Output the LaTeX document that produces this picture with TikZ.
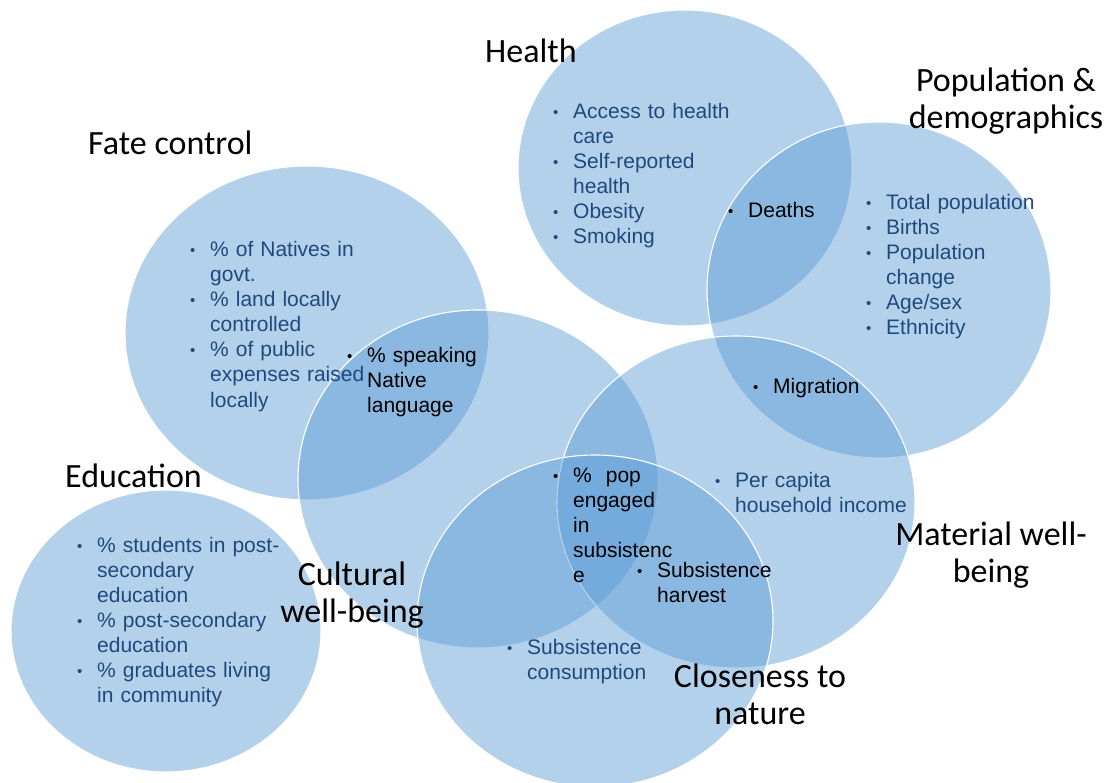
\documentclass[tikz,border=0pt]{standalone}
\usepackage{fontspec}
\setmainfont{Liberation Sans}
\newfontfamily\titlefont{Carlito}
\definecolor{circblue}{RGB}{91,155,213}
\definecolor{itemblue}{RGB}{31,73,125}
\newcommand{\bl}[1]{\hangindent=20pt\hangafter=1\noindent
  \makebox[20pt][l]{\raisebox{1pt}{\fontsize{15}{15}\selectfont\textbullet}}#1\par}

\begin{document}
\begin{tikzpicture}[
  x=1pt, y=-1pt,
  circ/.style={fill=circblue, fill opacity=0.46, draw=white, line width=1.1pt},
  title/.style={font=\titlefont\fontsize{34}{37}\selectfont, align=center, inner sep=0pt, anchor=base},
  lefttitle/.style={title, anchor=base west},
  item/.style={font=\fontsize{21}{25}\selectfont, text=itemblue, text width=260pt,
    align=left, anchor=base west, inner sep=0pt},
  shared/.style={item, text=black}]

\useasboundingbox (0,0) rectangle (1107,783);

\draw[circ] (685,168) ellipse [x radius=167, y radius=158];
\draw[circ] (879,290) ellipse [x radius=172, y radius=168];
\draw[circ] (307,333) ellipse [x radius=182, y radius=167];
\draw[circ] (478,479) ellipse [x radius=180, y radius=169];
\draw[circ] (736,502) ellipse [x radius=179, y radius=166];
\draw[circ] (595,621) ellipse [x radius=178, y radius=166];
\draw[circ] (166,631) ellipse [x radius=155, y radius=141];

\node[lefttitle] (health) at (485,63)   {Health};
\node[title]     (pop)    at (1006,129) {Population \&\\demographics};
\node[lefttitle] (fate)   at (88,155)   {Fate control};
\node[lefttitle] (edu)    at (65,487)   {Education};
\node[title]     (cult)   at (352,622)  {Cultural\\well-being};
\node[title]     (mat)    at (991,582)  {Material well-\\being};
\node[title]     (close)  at (760,724)  {Closeness to\\nature};

\node[item] (healthlist) at (553,119) {\bl{Access to health\newline care}\bl{Self-reported\newline health}\bl{Obesity}\bl{Smoking}};
\node[shared] (deaths) at (728,218) {\bl{Deaths}};
\node[item] (poplist) at (866,210) {\bl{Total population}\bl{Births}\bl{Population\newline change}\bl{Age/sex}\bl{Ethnicity}};
\node[shared] (migration) at (753,393) {\bl{Migration}};
\node[item] (fatelist) at (190,257) {\bl{\% of Natives in\newline govt.}\bl{\% land locally\newline controlled}\bl{\% of public\newline expenses raised\newline locally}};
\node[shared] (speaking) at (347,362) {\bl{\% speaking\newline Native\newline language}};
\node[item] (edulist) at (77,552) {\bl{\% students in post-\newline secondary\newline education}\bl{\% post-secondary\newline education}\bl{\% graduates living\newline in community}};
\node[shared] (subpop) at (553,482) {\bl{\%\ \ pop\newline engaged\newline in\newline subsistenc\newline e}};
\node[shared] (harvest) at (637,577) {\bl{Subsistence\newline harvest}};
\node[item] (income) at (715,487) {\bl{Per capita\newline household income}};
\node[item] (consume) at (507,654) {\bl{Subsistence\newline consumption}};
\end{tikzpicture}
\end{document}
